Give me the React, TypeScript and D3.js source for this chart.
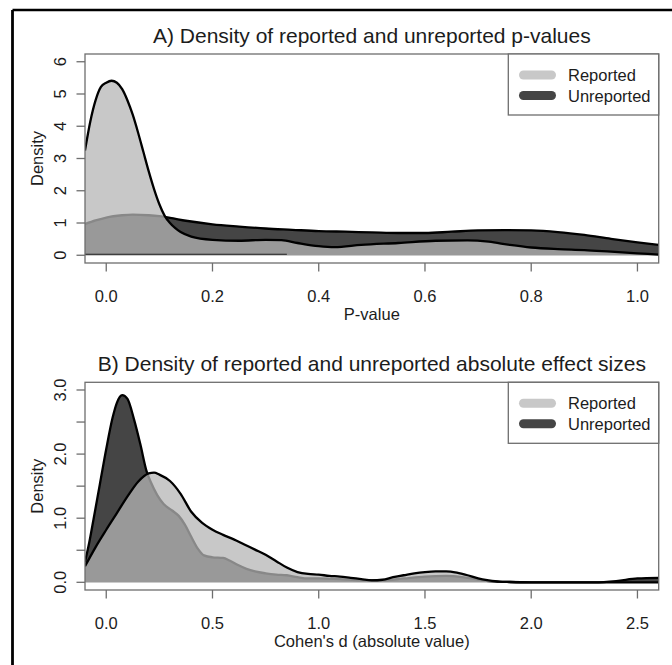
import * as d3 from "d3";
import React from "react";

const W = 672;
const H = 665;

// A) p-values
const pTicks = [0, 0.2, 0.4, 0.6, 0.8, 1.0];
const pDensityTicks = [0, 1, 2, 3, 4, 5, 6];
const pDensityLabels = ["0", "1", "2", "3", "4", "5", "6"];
const pGridReported = [-0.04, -0.03, -0.02, -0.01, 0, 0.01, 0.02, 0.03, 0.04, 0.05, 0.06, 0.07, 0.08, 0.09, 0.1, 0.11, 0.12, 0.13, 0.14, 0.16, 0.2, 0.25, 0.3, 0.33, 0.36, 0.4, 0.43, 0.48, 0.55, 0.62, 0.68, 0.72, 0.76, 0.8, 0.85, 0.9, 0.95, 1.0, 1.04];
const pReported = [3.25, 4.15, 4.81, 5.22, 5.35, 5.41, 5.35, 5.15, 4.8, 4.35, 3.8, 3.2, 2.6, 2.05, 1.58, 1.22, 1.0, 0.84, 0.72, 0.58, 0.48, 0.45, 0.48, 0.47, 0.38, 0.28, 0.25, 0.32, 0.38, 0.45, 0.46, 0.42, 0.32, 0.24, 0.19, 0.16, 0.11, 0.06, 0.02];
const pGridUnreported = [-0.04, -0.02, 0, 0.03, 0.05, 0.08, 0.1, 0.12, 0.15, 0.2, 0.25, 0.3, 0.35, 0.4, 0.45, 0.5, 0.55, 0.6, 0.65, 0.7, 0.75, 0.8, 0.85, 0.9, 0.95, 1.0, 1.04];
const pUnreported = [0.97, 1.08, 1.17, 1.24, 1.26, 1.24, 1.21, 1.16, 1.07, 0.96, 0.89, 0.83, 0.79, 0.75, 0.73, 0.71, 0.69, 0.69, 0.73, 0.77, 0.78, 0.77, 0.72, 0.63, 0.51, 0.4, 0.32];
const pBaseline = [-0.04, 0.34];

// B) absolute effect sizes
const dTicks = [0, 0.5, 1.0, 1.5, 2.0, 2.5];
const dDensityTicks = [0, 0.5, 1, 1.5, 2, 2.5, 3];
const dDensityLabels = ["0.0", "", "1.0", "", "2.0", "", "3.0"];
const dGridReported = [-0.1, -0.05, 0, 0.05, 0.1, 0.15, 0.2, 0.225, 0.25, 0.3, 0.35, 0.4, 0.45, 0.5, 0.55, 0.6, 0.65, 0.7, 0.75, 0.8, 0.85, 0.9, 0.95, 1.0, 1.05, 1.1, 1.15, 1.2, 1.25, 1.3, 1.35, 1.4, 1.45, 1.5, 1.55, 1.6, 1.65, 1.7, 1.75, 1.8, 1.85, 1.9, 2.0, 2.6];
const dReported = [0.25, 0.55, 0.82, 1.08, 1.34, 1.57, 1.7, 1.71, 1.68, 1.58, 1.38, 1.1, 0.93, 0.82, 0.74, 0.67, 0.59, 0.51, 0.43, 0.33, 0.23, 0.16, 0.13, 0.12, 0.1, 0.09, 0.07, 0.05, 0.03, 0.04, 0.08, 0.11, 0.14, 0.16, 0.17, 0.17, 0.15, 0.11, 0.06, 0.03, 0.01, 0.005, 0, 0];
const dGridUnreported = [-0.1, -0.08, -0.06, -0.03, 0, 0.03, 0.05, 0.075, 0.1, 0.13, 0.16, 0.19, 0.21, 0.24, 0.27, 0.31, 0.34, 0.37, 0.4, 0.43, 0.46, 0.5, 0.55, 0.58, 0.62, 0.66, 0.7, 0.75, 0.8, 0.85, 0.9, 0.95, 1.0, 1.1, 1.2, 1.3, 1.4, 1.5, 1.6, 1.7, 1.8, 1.9, 2.0, 2.3, 2.4, 2.5, 2.6];
const dUnreported = [0.32, 0.62, 0.98, 1.53, 2.08, 2.57, 2.8, 2.92, 2.86, 2.55, 2.16, 1.73, 1.56, 1.36, 1.22, 1.12, 1.04, 0.9, 0.71, 0.53, 0.42, 0.39, 0.38, 0.34, 0.27, 0.21, 0.17, 0.14, 0.12, 0.11, 0.08, 0.06, 0.06, 0.05, 0.03, 0.03, 0.06, 0.09, 0.1, 0.07, 0.02, 0.005, 0, 0, 0.02, 0.06, 0.07];

const legendLabels = ["Reported", "Unreported"];
const legendColors = ["#c8c8c8", "#454545"];

const font = "'Liberation Sans', Arial, Helvetica, sans-serif";
const txt = "#1c1c1c";
const axisCol = "#6e6e6e";

function Panel(props) {
  const { id, top, bottom, title, xLabel, xDomain, yDomain, xTicks, yTicks, yLabels, gridR, rep, gridU, unrep, baseline } = props;
  const left = 85;
  const right = 658.7;

  const x = d3.scaleLinear().domain(xDomain).range([left, right]);
  const y = d3.scaleLinear().domain(yDomain).range([bottom, top]);

  const ptsR = gridR.map((g, i) => [g, rep[i]]);
  const ptsU = gridU.map((g, i) => [g, unrep[i]]);

  const line = d3.line().x((d) => x(d[0])).y((d) => y(d[1])).curve(d3.curveMonotoneX);
  const area = d3.area().x((d) => x(d[0])).y0(y(0)).y1((d) => y(d[1])).curve(d3.curveMonotoneX);

  return (
    <g>
      <clipPath id={id}>
        <rect x={left} y={top} width={right - left} height={bottom - top} />
      </clipPath>
      <text x={(left + right) / 2} y={top - 11.5} textAnchor="middle" fontSize={21} fill={txt}>
        {title}
      </text>
      <g clipPath={`url(#${id})`}>
        <path d={area(ptsU)} fill="#454545" />
        <path d={line(ptsU)} fill="none" stroke="#000" strokeWidth={2.3} />
        <path d={area(ptsR)} fill="rgba(182,182,182,0.75)" />
        <path d={line(ptsR)} fill="none" stroke="#000" strokeWidth={2.3} />
        {baseline && (
          <line x1={x(baseline[0])} x2={x(baseline[1])} y1={y(0) - 1} y2={y(0) - 1} stroke="#222" strokeWidth={1.2} />
        )}
      </g>
      <rect x={left} y={top} width={right - left} height={bottom - top} fill="none" stroke={axisCol} strokeWidth={1.3} />

      {xTicks.map((t) => (
        <g key={t}>
          <line x1={x(t)} x2={x(t)} y1={bottom} y2={bottom + 8.5} stroke={axisCol} strokeWidth={1.3} />
          <text x={x(t)} y={bottom + 38.5} textAnchor="middle" fontSize={16.5} fill={txt}>
            {t.toFixed(1)}
          </text>
        </g>
      ))}
      <text x={(left + right) / 2} y={bottom + 56.5} textAnchor="middle" fontSize={16.5} fill={txt}>
        {xLabel}
      </text>

      {yTicks.map((t, i) => (
        <g key={t}>
          <line x1={left - 8.5} x2={left} y1={y(t)} y2={y(t)} stroke={axisCol} strokeWidth={1.3} />
          {yLabels[i] && (
            <text transform={`translate(66,${y(t)}) rotate(-90)`} textAnchor="middle" fontSize={16.5} fill={txt}>
              {yLabels[i]}
            </text>
          )}
        </g>
      ))}
      <text transform={`translate(43,${(top + bottom) / 2}) rotate(-90)`} textAnchor="middle" fontSize={16.5} fill={txt}>
        Density
      </text>

      <rect x={right - 150.4} y={top} width={150.4} height={61} fill="#fff" stroke={axisCol} strokeWidth={1.3} />
      {legendLabels.map((l, i) => (
        <g key={l}>
          <line x1={523.5} x2={551.5} y1={top + 21 + i * 20.5} y2={top + 21 + i * 20.5} stroke={legendColors[i]} strokeWidth={9} strokeLinecap="round" />
          <text x={568} y={top + 27 + i * 20.5} fontSize={16.5} fill={txt}>
            {l}
          </text>
        </g>
      ))}
    </g>
  );
}

export default function App() {
  return (
    <svg width={W} height={H} style={{ position: "absolute", left: 0, top: 0, background: "#fff" }} fontFamily={font}>
      <rect x={0} y={0} width={W} height={H} fill="#fff" />
      <Panel
        id="clipA"
        top={54}
        bottom={263}
        title="A) Density of reported and unreported p-values"
        xLabel="P-value"
        xDomain={[-0.04, 1.04]}
        yDomain={[-0.24, 6.24]}
        xTicks={pTicks}
        yTicks={pDensityTicks}
        yLabels={pDensityLabels}
        gridR={pGridReported}
        rep={pReported}
        gridU={pGridUnreported}
        unrep={pUnreported}
        baseline={pBaseline}
      />
      <Panel
        id="clipB"
        top={382.3}
        bottom={590}
        title="B) Density of reported and unreported absolute effect sizes"
        xLabel="Cohen's d (absolute value)"
        xDomain={[-0.1, 2.6]}
        yDomain={[-0.12, 3.12]}
        xTicks={dTicks}
        yTicks={dDensityTicks}
        yLabels={dDensityLabels}
        gridR={dGridReported}
        rep={dReported}
        gridU={dGridUnreported}
        unrep={dUnreported}
      />
      <line x1={12.5} x2={W} y1={10} y2={10} stroke="#000" strokeWidth={2.5} />
      <line x1={12.5} x2={12.5} y1={10} y2={H} stroke="#000" strokeWidth={2.8} />
    </svg>
  );
}
